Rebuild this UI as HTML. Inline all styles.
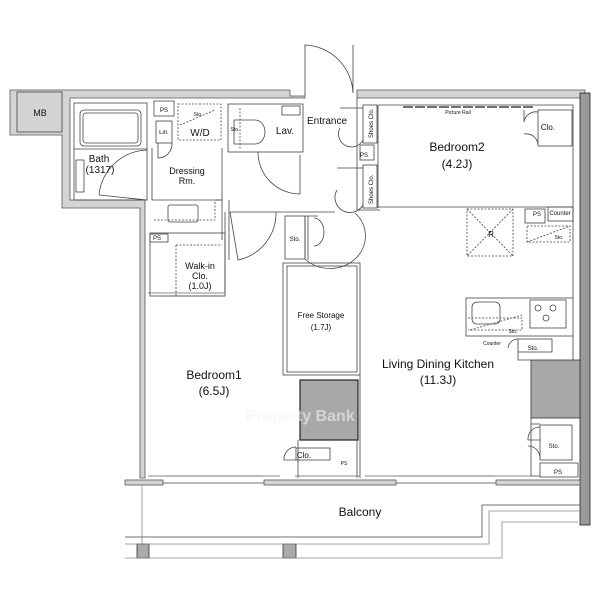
<!DOCTYPE html>
<html><head><meta charset="utf-8"><style>
html,body{margin:0;padding:0;background:#fff;}
svg{display:block;font-family:"Liberation Sans",sans-serif;}
</style></head><body>
<svg width="600" height="600" viewBox="0 0 600 600" xmlns="http://www.w3.org/2000/svg">
<g fill="#d4d4d4" stroke="#555" stroke-width="0.8">
 <path d="M10 90 H290 V96 H305 V98 H70 V200 H145 V478 H140 V208 H62 V135 H10 Z"/>
 <path d="M357 90 H585 V98 H357 Z"/>
 <rect x="580" y="93" width="10" height="432" fill="#9a9a9a" stroke="#222"/>
 <rect x="125" y="480" width="38" height="5"/>
 <rect x="264" y="480" width="132" height="5"/>
 <rect x="496" y="480" width="84" height="5"/>
 <rect x="531" y="360" width="49" height="58" fill="#a8a8a8" stroke="#333"/>
 <rect x="300" y="380" width="58" height="60" fill="#a8a8a8" stroke="#222" stroke-width="1.2"/>
 <rect x="137" y="544" width="12" height="14" fill="#aaa" stroke="#333"/>
 <rect x="283" y="544" width="13" height="14" fill="#aaa" stroke="#333"/>
</g>
<g fill="none" stroke="#444" stroke-width="0.8">
 <rect x="17" y="92" width="45" height="40"/>
 <line x1="163" y1="483" x2="264" y2="483"/><line x1="396" y1="483" x2="496" y2="483"/>
 <line x1="165" y1="476" x2="262" y2="476" stroke="#888"/><line x1="398" y1="476" x2="494" y2="476" stroke="#888"/>
 <path d="M125 537 H482 V505 H580"/>
 <path d="M125 544 H489 V511 H580" stroke="#888"/>
 <path d="M125 558 H502 V522 H578" stroke="#888"/>
 <line x1="142" y1="485" x2="142" y2="544" stroke="#888"/>
 <rect x="74" y="103" width="73" height="97"/>
 <rect x="80" y="110" width="61" height="36" rx="4"/>
 <rect x="83" y="113" width="55" height="30" rx="3"/>
 <line x1="74" y1="149" x2="147" y2="149"/>
 <rect x="76" y="160" width="8" height="32"/>
 <path d="M99 195 L147 200 M99 195 A50 50 0 0 1 147 150"/>
 <rect x="154" y="101" width="20" height="15"/>
 <rect x="156" y="121" width="16" height="22"/>
 <path d="M158 143 V158 A14 14 0 0 0 172 143"/>
 <rect x="178" y="104" width="43" height="36" stroke-dasharray="2 1.5"/>
 <line x1="180" y1="125" x2="215" y2="110" stroke-dasharray="2 1.5"/>
 <path d="M152 148 V200 M152 200 H222 V148"/>
 <rect x="168" y="205" width="30" height="17" rx="2"/>
 <path d="M154 220 H215 V200" stroke-dasharray="2 1.5"/>
 <path d="M215 200 H222 V240 M229 200 V260" />
 <rect x="150" y="234" width="18" height="8"/>
 <rect x="150" y="233" width="75" height="63"/>
 <path d="M176 245 H222 M176 245 V296 M165 296 H225" stroke-dasharray="2 1.5"/>
 <rect x="228" y="104" width="75" height="48"/>
 <rect x="282" y="106" width="18" height="9"/>
 <path d="M234 120 H255 A10 12 0 0 1 255 144 H234 Z"/>
 <line x1="240" y1="108" x2="240" y2="150" stroke-dasharray="2 1.5"/>
 <path d="M258 152 A42 42 0 0 0 300 194 V155"/>
 <path d="M230 212 L238 260 A48 48 0 0 0 276 212"/>
 <line x1="230" y1="212" x2="335" y2="212"/>
 <rect x="285" y="216" width="20" height="43"/>
 <path d="M305 216 V259 M305 216 H318 M305 259 A24 22 0 0 0 355 213 M314 218 A10 14 0 0 1 314 246 M308 216 V260"/>
 <rect x="283" y="263" width="77" height="112"/>
 <rect x="287" y="266" width="70" height="106"/>
 <path d="M360 375 V478 M357 440 V478 M298 440 V478"/>
 <rect x="296" y="448" width="34" height="12"/>
 <path d="M296 447 A12 12 0 0 0 284 460 H296"/>
 <path d="M305 96 V45 A50 50 0 0 1 353 93 V45"/>
 <rect x="363" y="105" width="14" height="38"/>
 <rect x="360" y="145" width="14" height="15"/>
 <rect x="363" y="165" width="14" height="43"/>
 <path d="M363 108 H340 M363 140 A12 12 0 0 1 340 128 M363 168 H337 M363 205 A12 12 0 0 1 337 190"/>
 <path d="M357 98 V210 H380"/>
 <path d="M378 105 H573 V205 M378 105 V208 M378 207 H465"/>
 <line x1="403" y1="107" x2="535" y2="107" stroke-width="1.5" stroke-dasharray="10 2"/>
 <rect x="538" y="110" width="34" height="36"/>
 <path d="M538 112 A12 12 0 0 0 524 122 V110 M538 144 A12 12 0 0 0 524 134" />
 <rect x="467" y="209" width="46" height="47" stroke-dasharray="2 1.5"/>
 <path d="M467 209 L513 256 M513 209 L467 256" stroke-dasharray="2 1.5"/>
 <path d="M465 207 H513 M513 207 H573" />
 <rect x="525" y="209" width="20" height="14"/>
 <rect x="548" y="207" width="25" height="14"/>
 <path d="M527 226 H570 V242 H527 Z M527 242 L570 226" stroke-dasharray="2 1.5"/>
 <rect x="466" y="298" width="107" height="38"/>
 <rect x="472" y="302" width="28" height="22" rx="5"/>
 <path d="M468 318 H522 V330 H468 M470 330 L522 315" stroke-dasharray="2 1.5"/>
 <rect x="530" y="300" width="36" height="28"/>
 <circle cx="538" cy="308" r="3"/><circle cx="553" cy="308" r="3"/><circle cx="546" cy="318" r="3"/>
 <rect x="518" y="339" width="34" height="13"/>
 <path d="M518 339 A10 10 0 0 0 508 348" />
 <path d="M573 205 V298 M573 336 V360 M518 352 V360 H531"/>
 <rect x="540" y="425" width="32" height="35"/>
 <path d="M540 427 A12 12 0 0 0 528 440 H540 M540 458 A12 12 0 0 0 528 446"/>
 <rect x="540" y="463" width="38" height="14"/>
 <path d="M531 418 V424 H540 M531 418 V476 H540"/>
 <path d="M148 293 H225 V296 M148 476 H280 M295 476 H360 M365 476 H536" stroke="#666"/>
 <path d="M225 293 V212"/>
</g>
<g fill="#111" text-anchor="middle">
 <text x="40" y="116" font-size="9">MB</text>
 <text x="99" y="162" font-size="10">Bath</text>
 <text x="100" y="173" font-size="10">(1317)</text>
 <text x="164" y="112" font-size="6">PS</text>
 <text x="164" y="134" font-size="6">Lin.</text>
 <text x="200" y="136" font-size="10">W/D</text>
 <text x="198" y="116" font-size="5">Sto.</text>
 <text x="187" y="174" font-size="9">Dressing</text>
 <text x="187" y="184" font-size="9">Rm.</text>
 <text x="157" y="240" font-size="6">PS</text>
 <text x="200" y="269" font-size="9">Walk-in</text>
 <text x="200" y="279" font-size="9">Clo.</text>
 <text x="200" y="289" font-size="9">(1.0J)</text>
 <text x="285" y="134" font-size="10">Lav.</text>
 <text x="235" y="131" font-size="5">Sto.</text>
 <text x="327" y="124" font-size="10">Entrance</text>
 <text x="364" y="157" font-size="6">PS</text>
 <text x="295" y="241" font-size="6">Sto.</text>
 <text x="457" y="151" font-size="12">Bedroom2</text>
 <text x="457" y="168" font-size="12">(4.2J)</text>
 <text x="458" y="114" font-size="5">Picture Rail</text>
 <text x="548" y="130" font-size="8">Clo.</text>
 <text x="537" y="216" font-size="6">PS</text>
 <text x="560" y="215" font-size="6">Counter</text>
 <text x="559" y="239" font-size="5">Sto.</text>
 <text x="491" y="237" font-size="8">R</text>
 <text x="321" y="318" font-size="8">Free Storage</text>
 <text x="321" y="330" font-size="8">(1.7J)</text>
 <text x="513" y="333" font-size="5">Sto.</text>
 <text x="492" y="345" font-size="5">Counter</text>
 <text x="533" y="350" font-size="6">Sto.</text>
 <text x="438" y="368" font-size="12">Living Dining Kitchen</text>
 <text x="438" y="384" font-size="12">(11.3J)</text>
 <text x="214" y="379" font-size="12">Bedroom1</text>
 <text x="214" y="395" font-size="12">(6.5J)</text>
 <text x="304" y="458" font-size="8">Clo.</text>
 <text x="344" y="465" font-size="5">PS</text>
 <text x="554" y="448" font-size="6">Sto.</text>
 <text x="558" y="474" font-size="6">PS</text>
 <text x="360" y="516" font-size="12">Balcony</text>
 <text x="300" y="421" font-size="16" font-weight="bold" fill="#f4f4f4" fill-opacity="0.6">Property Bank</text>
</g>
<g font-size="6" fill="#111">
 <text transform="translate(373,138) rotate(-90)">Shoes Clo.</text>
 <text transform="translate(373,204) rotate(-90)">Shoes Clo.</text>
</g>
</svg>
</body></html>
